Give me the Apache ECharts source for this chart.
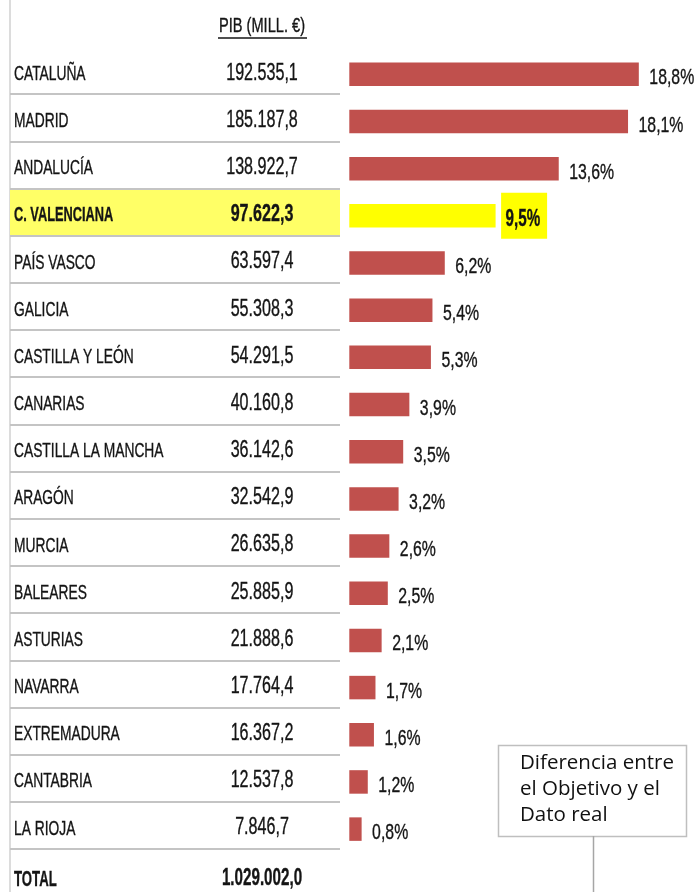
<!DOCTYPE html>
<html>
<head>
<meta charset="utf-8">
<script src="https://cdn.jsdelivr.net/npm/echarts@6/dist/echarts.min.js"></script>
<style>
  html, body { margin: 0; padding: 0; background: #fff; }
  #chart { width: 699px; height: 892px; }
</style>
</head>
<body>
<div id="chart"></div>
<script>
// datos
const regions = ['CATALUÑA', 'MADRID', 'ANDALUCÍA', 'C. VALENCIANA', 'PAÍS VASCO', 'GALICIA',
  'CASTILLA Y LEÓN', 'CANARIAS', 'CASTILLA LA MANCHA', 'ARAGÓN', 'MURCIA', 'BALEARES',
  'ASTURIAS', 'NAVARRA', 'EXTREMADURA', 'CANTABRIA', 'LA RIOJA'];
const pib = [192535.1, 185187.8, 138922.7, 97622.3, 63597.4, 55308.3, 54291.5, 40160.8,
  36142.6, 32542.9, 26635.8, 25885.9, 21888.6, 17764.4, 16367.2, 12537.8, 7846.7];
const share = [18.8, 18.1, 13.6, 9.5, 6.2, 5.4, 5.3, 3.9, 3.5, 3.2, 2.6, 2.5, 2.1, 1.7, 1.6, 1.2, 0.8];
const totalPib = 1029002.0;
const highlight = 'C. VALENCIANA';
const header = 'PIB (MILL. €)';
const note = 'Diferencia entre\nel Objetivo y el\nDato real';

const hi = regions.indexOf(highlight);
// no hay fuente estrecha instalada: se comprime en horizontal
const FONT = '"Liberation Sans", Arial, sans-serif';
const TXT = '#141414';

// 192535.1 -> "192.535,1"
function fmtEs(v) {
  const parts = v.toFixed(1).split('.');
  return parts[0].replace(/\B(?=(\d{3})+(?!\d))/g, '.') + ',' + parts[1];
}

// texto un poco más grueso, como en la imagen original
function txt(text, font, align) {
  return { text: text, fill: TXT, stroke: TXT, lineWidth: 0.35, font: font, align: align, verticalAlign: 'middle' };
}

const chart = echarts.init(document.getElementById('chart'));

// textos de cada fila (nombre, PIB y porcentaje)
function renderRow(params, api) {
  const v = api.value(0);
  const i = api.value(1);
  const p = api.coord([v, i]);
  const isHi = i === hi;
  const children = [
    {
      type: 'text', x: 14, y: p[1], scaleX: isHi ? 0.64 : 0.69,
      style: txt(regions[i], (isHi ? 'bold ' : '') + '20px ' + FONT, 'left')
    },
    {
      type: 'text', x: 262, y: p[1] - 1, scaleX: 0.7,
      style: txt(fmtEs(pib[i]), (isHi ? 'bold ' : '') + '23px ' + FONT, 'center')
    }
  ];
  const pct = v.toFixed(1).replace('.', ',') + '%';
  if (isHi) {
    children.push({
      type: 'rect', shape: { x: p[0] + 5.5, y: p[1] - 23, width: 46, height: 46 },
      style: { fill: '#ffff00' }
    });
    children.push({
      type: 'text', x: p[0] + 10, y: p[1] + 4, scaleX: 0.66,
      style: txt(pct, 'bold 23px ' + FONT, 'left')
    });
  } else {
    children.push({
      type: 'text', x: p[0] + 10.5, y: p[1] + 4, scaleX: 0.72,
      style: txt(pct, '22px ' + FONT, 'left')
    });
  }
  return { type: 'group', children: children };
}

const option = {
  animation: false,
  grid: [
    // tabla
    { left: 10, width: 330, top: 47, height: 802 },
    // barras
    { left: 349.3, right: 41.7, top: 50.7, height: 802 }
  ],
  xAxis: [
    { gridIndex: 0, type: 'value', show: false },
    { gridIndex: 1, type: 'value', min: 0, max: 20, show: false }
  ],
  yAxis: [
    {
      gridIndex: 0, type: 'category', inverse: true, data: regions,
      axisLine: { show: false }, axisTick: { show: false }, axisLabel: { show: false },
      splitLine: { show: true, showMinLine: false, lineStyle: { color: '#c4c4c4', width: 2 } },
      splitArea: {
        show: true,
        areaStyle: { color: regions.map((r, i) => (i === hi ? '#ffff66' : 'rgba(255,255,255,0)')) }
      }
    },
    {
      gridIndex: 1, type: 'category', inverse: true, data: regions,
      axisLine: { show: false }, axisTick: { show: false }, axisLabel: { show: false },
      splitLine: { show: false }
    }
  ],
  series: [
    {
      type: 'bar',
      xAxisIndex: 1,
      yAxisIndex: 1,
      data: share.map((v, i) => (i === hi ? { value: v, itemStyle: { color: '#ffff00' } } : v)),
      barWidth: 23.5,
      itemStyle: { color: '#c0504d' },
      silent: true
    },
    {
      type: 'custom',
      xAxisIndex: 1,
      yAxisIndex: 1,
      data: share.map((v, i) => [v, i]),
      renderItem: renderRow,
      silent: true,
      z: 3
    }
  ],
  graphic: [
    // borde izquierdo
    { type: 'line', shape: { x1: 10, y1: 0, x2: 10, y2: 892 }, style: { stroke: '#d0d0d0', lineWidth: 1.5 } },
    // cabecera subrayada
    { type: 'text', x: 262, y: 26, scaleX: 0.73, style: txt(header, '20px ' + FONT, 'center') },
    { type: 'line', shape: { x1: 218, y1: 38, x2: 307, y2: 38 }, style: { stroke: TXT, lineWidth: 1.5 } },
    // total
    { type: 'text', x: 14, y: 880, scaleX: 0.6, style: txt('TOTAL', 'bold 22px ' + FONT, 'left') },
    { type: 'text', x: 262, y: 879, scaleX: 0.66, style: txt(fmtEs(totalPib), 'bold 23px ' + FONT, 'center') },
    // cuadro de nota
    {
      type: 'rect', shape: { x: 498.5, y: 745.5, width: 188, height: 91 },
      style: { fill: '#fff', stroke: '#bfbfbf', lineWidth: 1.5 }
    },
    {
      type: 'text', x: 520, y: 750,
      style: { text: note, fill: '#111', font: '20.5px "Open Sans", sans-serif', lineHeight: 26, align: 'left', verticalAlign: 'top' }
    },
    { type: 'line', shape: { x1: 593.5, y1: 836, x2: 593.5, y2: 892 }, style: { stroke: '#a6a6a6', lineWidth: 1.5 } }
  ]
};

chart.setOption(option);
</script>
</body>
</html>
